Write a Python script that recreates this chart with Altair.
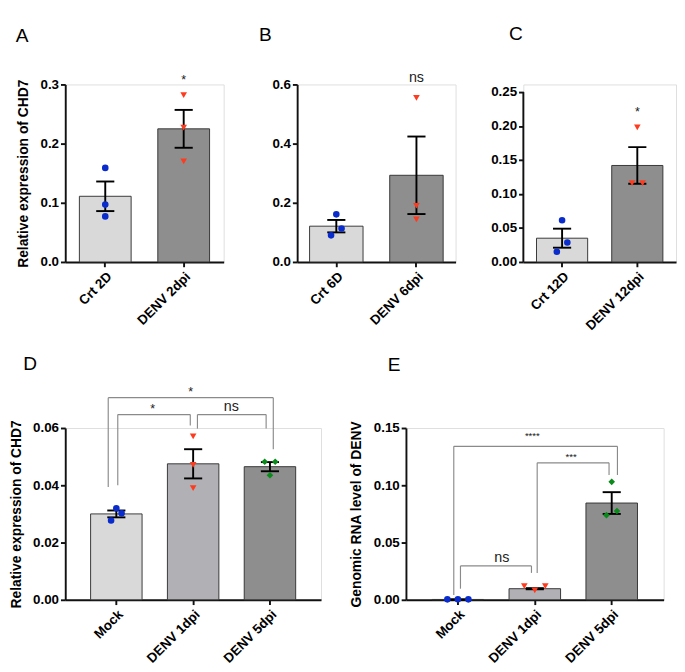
import altair as alt
import pandas as pd

FONT = "Liberation Sans"

# ---------------- data ----------------
# Panel A
A_groups = ["Crt 2D", "DENV 2dpi"]
A_mean = [0.111, 0.225]
A_sem = [0.025, 0.032]
A_points = [[0.159, 0.097, 0.077], [0.282, 0.227, 0.170]]
A_side = [[0, 0, 0], [0, 0, 0]]
A_sig = [("DENV 2dpi", "*", 0.312)]

# Panel B
B_groups = ["Crt 6D", "DENV 6dpi"]
B_mean = [0.121, 0.293]
B_sem = [0.021, 0.131]
B_points = [[0.161, 0.113, 0.090], [0.555, 0.190, 0.144]]
B_side = [[0, 1, -1], [0, 0, 0]]
B_sig = [("DENV 6dpi", "ns", 0.625)]

# Panel C
C_groups = ["Crt 12D", "DENV 12dpi"]
C_mean = [0.035, 0.142]
C_sem = [0.014, 0.027]
C_points = [[0.0614, 0.0286, 0.015], [0.198, 0.116, 0.116]]
C_side = [[0, 1, -1], [0, -1, 1]]
C_sig = [("DENV 12dpi", "*", 0.224)]

# Panel D
D_groups = ["Mock", "DENV 1dpi", "DENV 5dpi"]
D_mean = [0.0300, 0.0475, 0.0465]
D_sem = [0.0012, 0.0051, 0.0016]
D_points = [[0.0320, 0.0302, 0.0277], [0.0571, 0.0471, 0.0390], [0.0482, 0.0482, 0.0435]]
D_side = [[0, 1, -1], [0, 0, 0], [-1, 1, 0]]
# bracket: from, to, level, left tip, right tip, label, label y
D_brackets = [
    ("Mock", "DENV 5dpi", 0.0706, 0.0394, 0.0526, "*", 0.0736),
    ("Mock", "DENV 1dpi", 0.0647, 0.0400, 0.0609, "*", 0.0675),
    ("DENV 1dpi", "DENV 5dpi", 0.0647, 0.0598, 0.0598, "ns", 0.0675),
]

# Panel E
E_groups = ["Mock", "DENV 1dpi", "DENV 5dpi"]
E_mean = [0.0003, 0.0097, 0.0845]
E_sem = [0.0, 0.0005, 0.0095]
E_points = [[0.0004, 0.0004, 0.0004], [0.0119, 0.0083, 0.0119], [0.103, 0.0775, 0.0739]]
E_side = [[-2, 0, 2], [-2, 0, 2], [0, 1, -1]]
E_brackets = [
    ("Mock", "DENV 5dpi", 0.134, 0.0042, 0.109, "****", 0.145),
    ("DENV 1dpi", "DENV 5dpi", 0.1196, 0.0235, 0.109, "***", 0.127),
    ("Mock", "DENV 1dpi", 0.0296, 0.0097, 0.0235, "ns", 0.0374),
]

# ---------------- styles ----------------
CTRL = "#d9d9d9"
MID = "#b1b1b5"
DARK = "#8e8e8e"
BLUE = "#0a2ccc"
RED = "#ff3b1f"
GREEN = "#0a8a1a"
OFF_UNIT = 5.5
LAB = 14
TTL = 14.5


def panel(letter, groups, means, sems, points, sides, bar_cols, pt_cols, pt_shapes,
          ymax, ystep, fmt, ytitle, width, height, pi, po, title_dx, title_offset,
          sigs=(), brackets=(), bracket_offsets=(), label_dx=(), label_sizes=(),
          ytop=None):
    ticks = [round(i * ystep, 6) for i in range(int(round(ymax / ystep)) + 1)]
    own_domain = ytop is not None
    ytop = ytop if own_domain else ymax
    xscale = alt.Scale(domain=groups, paddingInner=pi, paddingOuter=po)
    yscale = alt.Scale(domain=[0, ytop], nice=False, zero=True)
    xaxis = alt.Axis(labelAngle=-45, title=None, labelFont=FONT, labelFontSize=LAB,
                     labelFontWeight="bold", labelColor="black", domainColor="#111",
                     domainWidth=2, tickColor="#111", tickWidth=2, tickSize=5,
                     labelPadding=3, labelAlign="right", labelBaseline="top")
    yaxis = alt.Axis(values=ticks, format=fmt, title=ytitle, grid=False, labelFont=FONT,
                     labelFontSize=LAB, labelFontWeight="bold", labelColor="black",
                     titleFont=FONT, titleFontSize=TTL, titleFontWeight="bold",
                     titleColor="black", titlePadding=10, domain=not own_domain,
                     domainColor="#111", domainWidth=2, tickColor="#111", tickWidth=2,
                     tickSize=5, labelPadding=2)

    def X(f):
        return alt.X(f, type="nominal", scale=xscale, axis=xaxis, sort=groups)

    def Y(f):
        return alt.Y(f, type="quantitative", scale=yscale, axis=yaxis)

    bars = pd.DataFrame({
        "group": groups,
        "mean": means,
        "lo": [m - s for m, s in zip(means, sems)],
        "hi": [m + s for m, s in zip(means, sems)],
    })
    rows = []
    for g, vals, sd in zip(groups, points, sides):
        for v, s in zip(vals, sd):
            rows.append({"group": g, "value": v, "side": s})
    pts = pd.DataFrame(rows)

    layers = []
    layers.append(alt.Chart(bars).mark_bar(stroke="#333333", strokeWidth=1).encode(
        x=X("group"), y=Y("mean"),
        color=alt.Color("group:N", scale=alt.Scale(domain=groups, range=bar_cols), legend=None)))
    if own_domain:
        axis_df = pd.DataFrame({"y0": [0.0], "y1": [ymax]})
        layers.append(alt.Chart(axis_df).mark_rule(color="#111", strokeWidth=2).encode(
            x=alt.value(0), y=Y("y0"), y2="y1:Q"))
    layers.append(alt.Chart(bars).mark_rule(color="black", strokeWidth=2).encode(
        x=X("group"), y=Y("lo"), y2="hi"))
    for f in ("lo", "hi"):
        layers.append(alt.Chart(bars).mark_tick(color="black", thickness=2, size=19,
                                                orient="horizontal", opacity=1).encode(
            x=X("group"), y=Y(f)))
    for s in sorted(set(pts["side"])):
        sub = pts[pts["side"] == s]
        layers.append(alt.Chart(sub).mark_point(filled=True, size=48, opacity=1,
                                               xOffset=s * OFF_UNIT).encode(
            x=X("group"), y=Y("value"),
            color=alt.Color("group:N", scale=alt.Scale(domain=groups, range=pt_cols), legend=None),
            shape=alt.Shape("group:N", scale=alt.Scale(domain=groups, range=pt_shapes), legend=None)))
    for g, t, yv in sigs:
        df = pd.DataFrame({"group": [g], "t": [t], "y": [yv]})
        fs = 15 if t == "ns" else 13
        dy = 0 if t == "ns" else 3
        layers.append(alt.Chart(df).mark_text(font=FONT, fontSize=fs, color="#222",
                                              baseline="middle", dy=dy).encode(
            x=X("group"), y=Y("y"), text="t:N"))
    for (a, b, lvl, lt, rt, lab, ly), (oa, ob), ldx, lfs in zip(brackets, bracket_offsets, label_dx, label_sizes):
        df = pd.DataFrame({"a": [a], "b": [b], "lvl": [lvl], "lt": [lt], "rt": [rt], "lab": [lab], "ly": [ly]})
        layers.append(alt.Chart(df).mark_rule(color="#8a8a8a", strokeWidth=1.2, xOffset=oa,
                                              x2Offset=ob).encode(
            x=X("a"), x2="b:N", y=Y("lvl")))
        layers.append(alt.Chart(df).mark_rule(color="#8a8a8a", strokeWidth=1.2, xOffset=oa).encode(
            x=X("a"), y=Y("lvl"), y2="lt:Q"))
        layers.append(alt.Chart(df).mark_rule(color="#8a8a8a", strokeWidth=1.2, xOffset=ob).encode(
            x=X("b"), y=Y("lvl"), y2="rt:Q"))
        dy = 0 if lab == "ns" else 3
        layers.append(alt.Chart(df).mark_text(font=FONT, fontSize=lfs, color="#222",
                                              baseline="middle", dx=ldx, dy=dy).encode(
            x=X("a"), y=Y("ly"), text="lab:N"))

    return alt.layer(*layers).resolve_scale(color="independent", shape="independent").properties(
        width=width, height=height,
        title=alt.TitleParams(letter, anchor="start", frame="group", dx=title_dx,
                              fontSize=20, fontWeight="normal", font=FONT, color="black",
                              offset=title_offset),
    )


pA = panel("A", A_groups, A_mean, A_sem, A_points, A_side, [CTRL, DARK], [BLUE, RED],
           ["circle", "triangle-down"], 0.3, 0.1, ".1f", "Relative expression of CHD7",
           166, 186, 0.34, 0.18, -52, 30, sigs=A_sig)
pB = panel("B", B_groups, B_mean, B_sem, B_points, B_side, [CTRL, DARK], [BLUE, RED],
           ["circle", "triangle-down"], 0.6, 0.2, ".1f", None,
           166, 186, 0.333, 0.155, -40, 27, sigs=B_sig)
pC = panel("C", C_groups, C_mean, C_sem, C_points, C_side, [CTRL, DARK], [BLUE, RED],
           ["circle", "triangle-down"], 0.25, 0.05, ".2f", None,
           160, 186, 0.32, 0.175, -15, 43, sigs=C_sig, ytop=0.25 * 186 / 178)
pD = panel("D", D_groups, D_mean, D_sem, D_points, D_side, [CTRL, MID, DARK], [BLUE, RED, GREEN],
           ["circle", "triangle-down", "diamond"], 0.06, 0.02, ".2f", "Relative expression of CHD7",
           268, 180, 0.33, 0.33, -44, 13, brackets=D_brackets,
           bracket_offsets=[(-8.5, 3.5), (1.5, -3), (4.5, -4)],
           label_dx=[78, 38, 40], label_sizes=[13, 13, 15])
pE = panel("E", E_groups, E_mean, E_sem, E_points, E_side, [CTRL, MID, DARK], [BLUE, RED, GREEN],
           ["circle", "triangle-down", "diamond"], 0.15, 0.05, ".2f", "Genomic RNA level of DENV",
           270, 180, 0.33, 0.34, -19, 48, brackets=E_brackets,
           bracket_offsets=[(-4.3, 6), (2.5, -2.8), (2.7, -3.5)],
           label_dx=[78, 38, 46], label_sizes=[10, 10, 15])

top = alt.hconcat(pA, pB, pC, spacing=35)
bottom = alt.hconcat(pD, pE, spacing=28)
chart = alt.vconcat(top, bottom, spacing=21).properties(padding=0).configure_view(
    strokeWidth=0).configure(background="white")

chart.save("out.html", embed_options={"renderer": "svg", "actions": False})
